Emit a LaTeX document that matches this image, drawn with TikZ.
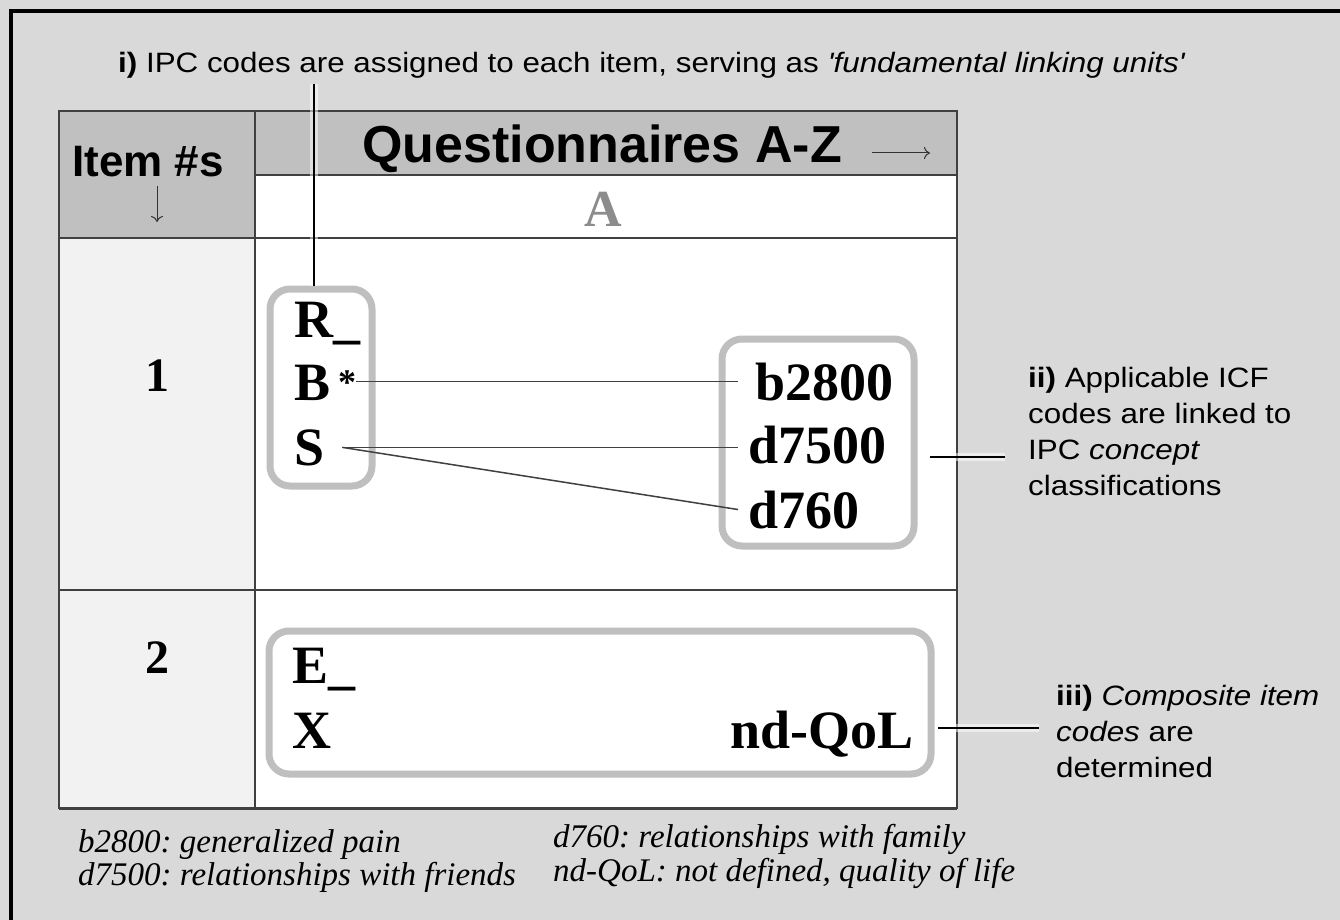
\documentclass[tikz,border=0pt]{standalone}
\usepackage{fontspec}
\setmainfont{Liberation Serif}
\newfontfamily\sanslab[FakeStretch=1.12]{Liberation Sans}
\newfontfamily\sanshead{Liberation Sans}
\usetikzlibrary{arrows.meta}
\definecolor{bg}{HTML}{D9D9D9}
\definecolor{hdr}{HTML}{C0C0C0}
\definecolor{itemcol}{HTML}{F2F2F2}
\definecolor{boxgray}{HTML}{BFBFBF}
\definecolor{gridc}{HTML}{404040}
\frenchspacing
\begin{document}
\begin{tikzpicture}[x=1pt,y=-1pt,
  grid/.style={draw=gridc, line width=1.5pt},
  rbox/.style={draw=boxgray, line width=7pt, rounded corners=20pt, inner sep=0pt},
  code/.style={font=\fontsize{54}{60}\selectfont\bfseries, inner sep=0pt, anchor=base west},
  rownum/.style={font=\fontsize{48}{50}\selectfont\bfseries, inner sep=0pt, anchor=base},
  link/.style={draw=gridc, line width=1.5pt},
  lead/.style={draw=black, line width=1.5pt},
  glow/.style={draw=white, line width=8pt, opacity=.5},
  lab/.style={font=\sanslab\fontsize{28}{36}\selectfont, align=left, inner sep=0pt, anchor=north west},
  foot/.style={font=\fontsize{33}{33}\selectfont\itshape, inner sep=0pt, anchor=base west},
  thinarrow/.style={draw=black!80, line width=1pt, -{To[length=6pt,width=12pt]}},
]
\useasboundingbox (0,0) rectangle (1340,920);
\fill[bg] (0,0) rectangle (1340,920);
\draw[line width=4pt] (11,1000) -- (11,11) -- (1400,11);

% table
\fill[hdr] (59,111) rectangle (255,238);
\fill[hdr] (255,111) rectangle (957,175);
\fill[white] (255,175) rectangle (957,808);
\fill[itemcol] (59,238) rectangle (255,808);
\draw[grid] (255,111) -- (255,808);
\draw[grid] (255,175) -- (957,175);
\draw[grid] (59,238) -- (957,238);
\draw[grid] (59,590) -- (957,590);
\draw[grid] (59,111) rectangle (957,808);
\draw[draw=gridc, line width=2.5pt] (59,808.5) -- (957,808.5);

% headers
\node[font=\sanshead\bfseries\fontsize{44}{50}\selectfont, anchor=base west, inner sep=0pt] (itemh) at (72,176) {Item \#s};
\coordinate (downA) at (157,186);
\coordinate (downB) at (157,222);
\draw[thinarrow] (downA) -- (downB);
\node[font=\sanshead\bfseries\fontsize{52}{56}\selectfont, anchor=base west, inner sep=0pt] (qh) at (362,163) {Questionnaires A-Z};
\coordinate (rightA) at (872,153);
\coordinate (rightB) at (930,153);
\draw[thinarrow] (rightA) -- (rightB);
\node[font=\bfseries\fontsize{52}{52}\selectfont, text=black!45, anchor=base, inner sep=0pt] (qa) at (603,226) {A};

\node[rownum] (n1) at (157,391) {1};
\node[rownum] (n2) at (157,673) {2};

% boxes
\node[rbox, minimum width=102pt, minimum height=197pt] (box1) at (321,387.5) {};
\node[rbox, minimum width=192pt, minimum height=207pt] (box2) at (818,442.5) {};
\node[rbox, minimum width=662pt, minimum height=143pt] (box3) at (600,702.5) {};

% codes
\node[code] (R) at (294,337) {R\_};
\node[code] (B) at (294,400) {B\hspace{8pt}\raisebox{6pt}{\fontsize{36}{36}\selectfont *}};
\node[code] (S) at (294,465) {S};
\node[code] (b2800) at (755,400) {b2800};
\node[code] (d7500) at (748,463) {d7500};
\node[code] (d760) at (748,528) {d760};
\node[code] (E) at (292,683) {E\_};
\node[code] (X) at (292,748) {X};
\node[code, anchor=base east] (ndq) at (914,748) {nd-QoL};

\draw[link] (B.east |- b2800.west) -- ([xshift=-17pt]b2800.west);
\draw[link] ([xshift=18pt]S.east) -- ([xshift=-10pt]d7500.west |- S.east);
\draw[link] ([xshift=18pt]S.east) -- ([xshift=-10pt]d760.west);

% labels
\node[font=\sanslab\fontsize{28}{34}\selectfont, anchor=base west, inner sep=0pt] (lbl1) at (118,73) {\textbf{i)} IPC codes are assigned to each item, serving as \textit{'fundamental linking units'}};
\node[lab] (lbl2) at (1028,367) {\textbf{ii)} Applicable ICF\\codes are linked to\\IPC \textit{concept}\\classifications};
\node[lab] (lbl3) at (1056,685) {\textbf{iii)} \textit{Composite item}\\\textit{codes} are\\determined};

\coordinate (iA) at (314,84);
\draw[glow] (iA) -- (box1.north -| iA);
\draw[lead] (iA) -- (box1.north -| iA);
\coordinate (iiA) at (930,457);
\coordinate (iiB) at (1005,457);
\draw[glow] (iiA) -- (iiB);
\draw[lead] (iiA) -- (iiB);
\coordinate (iiiA) at (938,728);
\coordinate (iiiB) at (1039,728);
\draw[glow] (iiiA) -- (iiiB);
\draw[lead] (iiiA) -- (iiiB);

% footnotes
\node[foot] (f1) at (78,852) {b2800: generalized pain};
\node[foot] (f2) at (78,885) {d7500: relationships with friends};
\node[foot] (f3) at (553,847) {d760: relationships with family};
\node[foot] (f4) at (553,881) {nd-QoL: not defined, quality of life};
\end{tikzpicture}
\end{document}
